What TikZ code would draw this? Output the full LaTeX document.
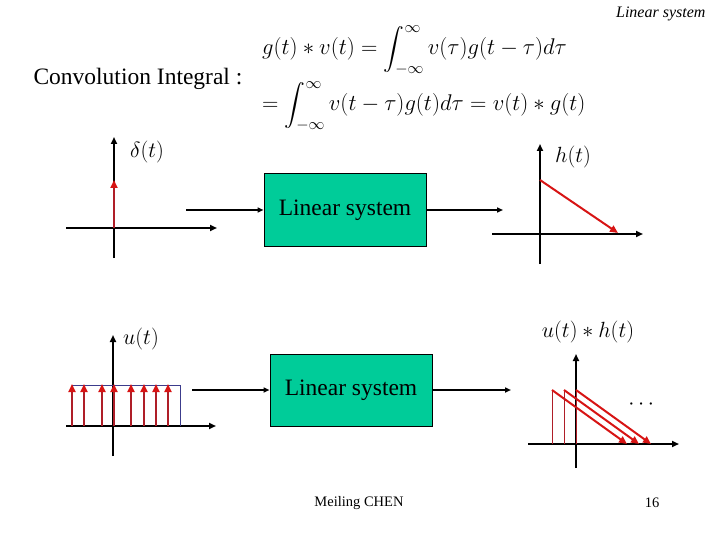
\RequirePackage{fix-cm}
\documentclass[tikz,border=0pt]{standalone}
\usepackage{amsmath}
\usepackage{fontspec}
\setmainfont{Liberation Serif}
\usetikzlibrary{arrows.meta,positioning}
\definecolor{sysgreen}{RGB}{0,204,153}
\definecolor{impred}{RGB}{215,20,20}
\definecolor{stemred}{RGB}{175,30,40}
\definecolor{rectblue}{RGB}{60,60,140}

\begin{document}
\begin{tikzpicture}[x=1pt, y=-1pt,
    sysbox/.style={draw=black, fill=sysgreen, line width=1pt, minimum width=162pt, minimum height=72pt, inner sep=0pt, font=\fontsize{23.5}{28}\selectfont},
    axis/.style={line width=2pt, -{Triangle[length=7pt,width=6pt]}},
    link/.style={line width=2pt, -{Triangle[length=6pt,width=5pt]}},
    sig/.style={line width=2pt, impred, -{Triangle[length=8pt,width=7pt]}},
    stem/.style={line width=1.8pt, stemred, -{Triangle[length=8pt,width=7pt,impred]}},
    lab/.style={font=\fontsize{22}{26}\selectfont},
    big/.style={font=\fontsize{23.5}{28}\selectfont},
    eq/.style={font=\fontsize{22.7}{27}\selectfont, anchor=west, inner sep=0pt},
    small/.style={font=\fontsize{14.5}{17}\selectfont}
]
\useasboundingbox (0,0) rectangle (720,540);

% title and formula
\node[font=\fontsize{16}{19}\selectfont\itshape, anchor=east] (title) at (709,14) {Linear system};
\node[big, anchor=west] (conv) at (30,79) {Convolution Integral :};
\node[eq] (eqa) at (262,50) {$g(t)\ast v(t)=\displaystyle\int_{-\infty}^{\infty} v(\tau)g(t-\tau)d\tau$};
\node[eq] (eqb) at (262,106) {$=\displaystyle\int_{-\infty}^{\infty} v(t-\tau)g(t)d\tau=v(t)\ast g(t)$};

% systems
\node[sysbox] (SysA) at (345,210) {Linear system};
\node[sysbox] (SysB) at (351,390) {Linear system};
\coordinate (InA) at (186,210);
\coordinate (OutA) at (503,210);
\coordinate (InB) at (192,390);
\coordinate (OutB) at (511,390);
\draw[link] (InA) -- (SysA);
\draw[link] (SysA) -- (OutA);
\draw[link] (InB) -- (SysB);
\draw[link] (SysB) -- (OutB);

% delta input
\draw[axis] (114,258) -- (114,137);
\draw[axis] (66,228) -- (217,228);
\draw[stem] (114,228) -- (114,180);
\node[lab] (delta) at (147,152) {$\delta(t)$};

% impulse response
\draw[axis] (540,264) -- (540,144);
\draw[axis] (492,234) -- (643,234);
\draw[sig] (540,180) -- (618,233);
\node[lab] (resp) at (573,157) {$h(t)$};

% step input
\draw[axis] (113,456) -- (113,335);
\draw[axis] (66,426) -- (216,426);
\draw[rectblue, line width=0.7pt] (72,385) -- (180,385) -- (180,426);
\foreach \x in {72, 84, 102, 114, 131, 144, 156, 168}
    \draw[stem] (\x,426) -- (\x,384);
\node[lab] (step) at (141,339) {$u(t)$};

% step response
\draw[axis] (576,468) -- (576,354);
\draw[axis] (528,444) -- (679,444);
\foreach \x in {552, 564, 576} {
    \draw[stemred, line width=0.8pt] (\x,444) -- (\x,390);
    \draw[sig] (\x,390) -- (\x+75,444);
}
\node[lab] (dots) at (643,405) {$\cdots$};
\node[lab] (out) at (588,332) {$u(t)\ast h(t)$};

% footer
\node[small] (name) at (359,503) {Meiling CHEN};
\node[small] (page) at (652,503) {16};
\end{tikzpicture}
\end{document}
